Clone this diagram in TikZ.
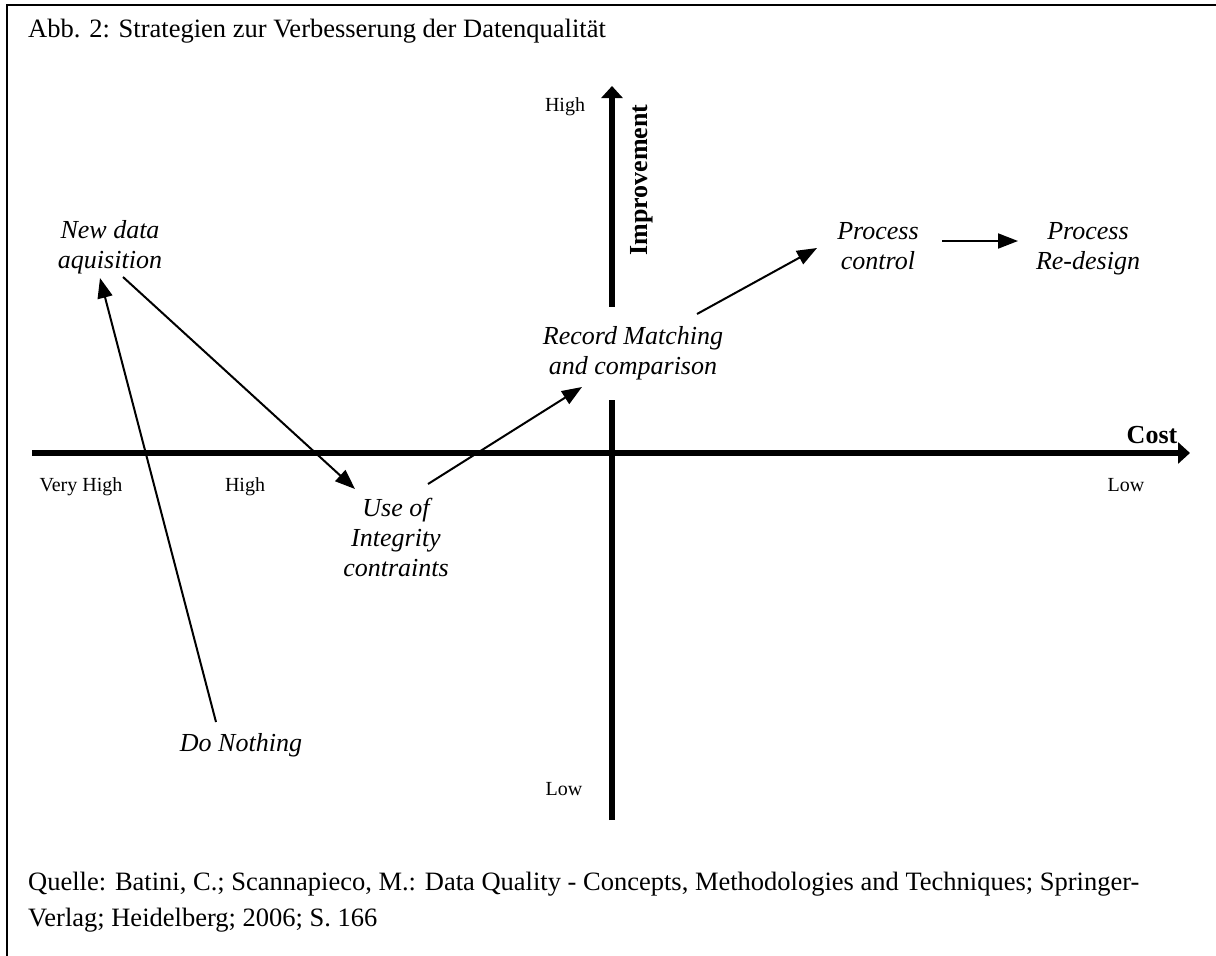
\documentclass[tikz,border=0pt]{standalone}
\usepackage{fontspec}
\setmainfont{Liberation Serif}
\usetikzlibrary{arrows.meta,calc}
\begin{document}
\begin{tikzpicture}[x=1pt,y=-1pt,
  lbl/.style={font=\fontsize{26}{30}\selectfont\itshape, align=center, inner sep=0pt},
  tick/.style={font=\fontsize{20}{22}\selectfont, inner sep=0pt, anchor=base},
  axislbl/.style={font=\fontsize{26}{30}\selectfont\bfseries, inner sep=0pt},
  note/.style={font=\fontsize{26.5}{30}\selectfont, inner sep=0pt, anchor=base west},
  conn/.style={line width=2pt, -{Triangle[length=20pt,width=15pt]}},
  axis/.style={line width=6.5pt, -{Triangle[length=12pt,width=21pt]}},
  ]
\useasboundingbox (0,0) rectangle (1216,956);
\fill[white] (0,0) rectangle (1216,956);

% frame (top and left rule)
\draw[line width=2pt] (7,956) -- (7,5) -- (1216,5);

% title
\node[note] (title) at (28,37)
  {Abb. 2: Strategien zur Verbesserung der Datenqualität};

% axes
\coordinate (xstart) at (32,453);
\coordinate (xend) at (1190,453);
\coordinate (ytop) at (612,86);
\coordinate (ybot) at (612,820);
\draw[axis] (xstart) -- (xend);
\draw[axis] (ybot) -- (ytop);

% axis labels
\node[axislbl, anchor=base] (cost) at (1152,443) {Cost};
\node[axislbl, rotate=90] (imp) at (642,180) {Improvement};
\node[tick] (yhigh) at (565,111) {High};
\node[tick] (ylow) at (564,795) {Low};
\node[tick] (vhigh) at (81,491) {Very High};
\node[tick] (xhigh) at (245,491) {High};
\node[tick] (xlow) at (1126,491) {Low};

% strategies
\node[lbl] (nd) at (110,247) {New data\\aquisition};
\node[lbl, anchor=base] (dn) at (241,751) {Do Nothing};
\node[lbl] (use) at (396,537) {Use of\\Integrity\\contraints};
\node[lbl, fill=white, minimum height=93pt] (rm) at (633,353) {Record Matching\\and comparison};
\node[lbl] (pc) at (878,246) {Process\\control};
\node[lbl] (pr) at (1088,249) {Process\\Re-design};

% transitions
\draw[conn] ($(dn.base)+(-25,-29)$) -- ($(nd)+(-10,31)$);
\draw[conn] ($(nd)+(13,30)$) -- ($(use)+(-41,-48)$);
\draw[conn] ($(use)+(32,-53)$) -- ($(rm)+(-51,34)$);
\draw[conn] ($(rm)+(64,-39)$) -- ($(pc)+(-61,2)$);
\draw[conn] ($(pc)+(64,-5)$) -- ($(pr)+(-70,-8)$);

% source
\node[note] (src1) at (28,890) {Quelle: Batini, C.; Scannapieco, M.: Data Quality - Concepts, Methodologies and Techniques; Springer-};
\node[note] (src2) at (28,926) {Verlag; Heidelberg; 2006; S. 166};
\end{tikzpicture}
\end{document}
